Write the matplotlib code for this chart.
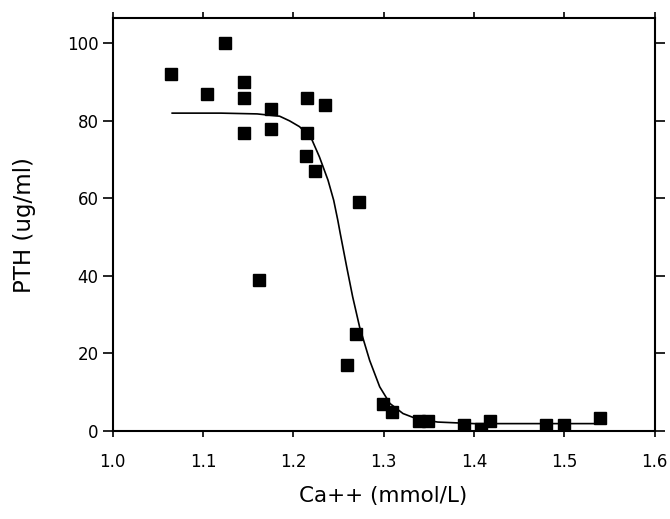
import numpy as np
import matplotlib
matplotlib.use("Agg")
import matplotlib.pyplot as plt

# Measured calcium vs PTH
ca = [1.065, 1.125, 1.105, 1.145, 1.145, 1.145, 1.175, 1.175, 1.215, 1.235,
      1.215, 1.214, 1.224, 1.273, 1.162, 1.270, 1.260, 1.299, 1.309, 1.339,
      1.349, 1.389, 1.408, 1.418, 1.480, 1.500, 1.540]
pth = [92, 100, 87, 90, 86, 77, 83, 78, 86, 84,
       77, 71, 67, 59, 39, 25, 17, 7, 5, 2.6,
       2.6, 1.5, 0.6, 2.6, 1.5, 1.5, 3.4]

# Fitted sigmoid curve
fit_ca = [1.066, 1.12, 1.16, 1.185, 1.196, 1.207, 1.220, 1.229, 1.2385, 1.2448,
          1.2493, 1.2520, 1.2592, 1.2658, 1.2735, 1.2846, 1.2957, 1.307, 1.3215, 1.336,
          1.36, 1.40, 1.45, 1.54]
fit_pth = [82, 82, 81.8, 81.2, 80.0, 78.5, 75.5, 70.7, 64.7, 59.5,
           54.4, 51.0, 42.3, 34.6, 26.8, 18.2, 11.4, 7.1, 4.5, 3.2,
           2.3, 1.9, 1.9, 1.9]

xticks = [1.0, 1.1, 1.2, 1.3, 1.4, 1.5, 1.6]
yticks = [0, 20, 40, 60, 80, 100]

plt.rcParams['font.family'] = 'DejaVu Sans'

fig = plt.figure(figsize=(6.7, 5.19), dpi=100)
ax = fig.add_axes([0.168, 0.1696, 0.809, 0.7954])

ax.plot(fit_ca, fit_pth, color='black', linewidth=1.2, zorder=2)
ax.plot(ca, pth, linestyle='none', marker='s', markersize=8.5,
        color='black', zorder=3)

ax.set_xlim(1.0, 1.6)
ax.set_ylim(0, 106.5)
ax.set_xticks(xticks)
ax.set_xticklabels(['%.1f' % t for t in xticks])
ax.set_yticks(yticks)

for s in ax.spines.values():
    s.set_linewidth(1.5)

ax.tick_params(direction='out', width=1.2, labelsize=12,
               top=True, right=True)
ax.tick_params(axis='x', length=4, pad=12)
ax.tick_params(axis='y', length=7, pad=3)

ax.set_xlabel('Ca++ (mmol/L)', fontsize=15.5, labelpad=11)
ax.set_ylabel('PTH (ug/ml)', fontsize=16.5, labelpad=22)

fig.savefig('out.png', dpi=100)
